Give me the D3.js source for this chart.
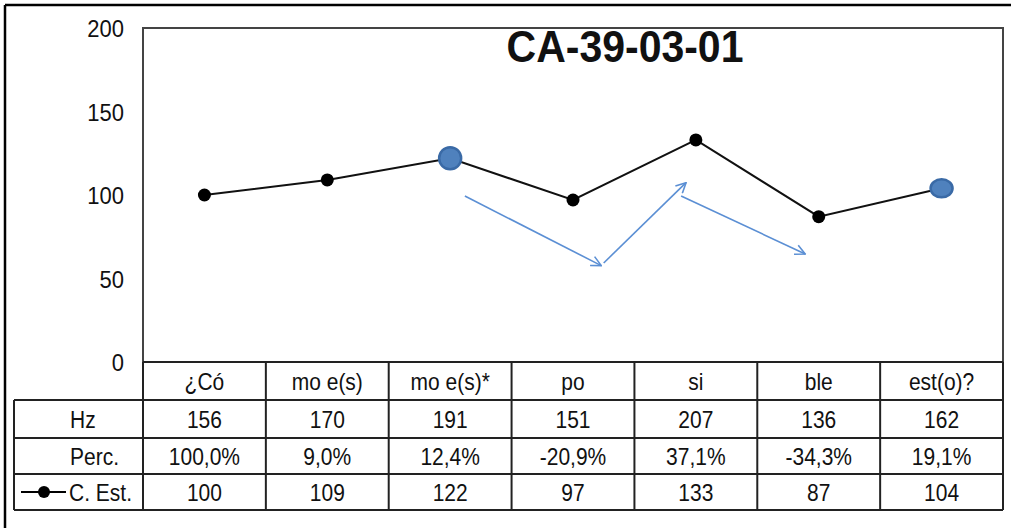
<!DOCTYPE html>
<html>
<head>
<meta charset="utf-8">
<script src="https://cdn.jsdelivr.net/npm/d3@7"></script>
<style>
  html, body { margin: 0; padding: 0; background: #fff; }
  svg { display: block; }
  text { font-family: "Liberation Sans", Arial, sans-serif; fill: #111; }
</style>
</head>
<body>
<svg id="chart" width="1011" height="528"></svg>
<script>
// ---- data ----
const title = "CA-39-03-01";
const categories = ["¿Có", "mo e(s)", "mo e(s)*", "po", "si", "ble", "est(o)?"];
const hz = [156, 170, 191, 151, 207, 136, 162];
const perc = ["100,0%", "9,0%", "12,4%", "-20,9%", "37,1%", "-34,3%", "19,1%"];
const cEst = [100, 109, 122, 97, 133, 87, 104];
const yTicks = [0, 50, 100, 150, 200];
const rowLabels = ["Hz", "Perc.", "C. Est."];
// highlighted points (index, shape)
const highlights = [{i: 2, rx: 11, ry: 11}, {i: 6, rx: 11, ry: 9}];
// annotation arrows in data coordinates [categoryIndex, value]
const arrows = [
  [[2.12, 99.4], [3.23, 57.7]],
  [[3.25, 59.3], [3.92, 107.4]],
  [[3.88, 99.4], [4.89, 64.7]]
];

// ---- layout ----
const svg = d3.select("#chart");
const plot = {left: 143, right: 1003, top: 28, bottom: 362};
const tableLeft = 14;
const rowEdges = [362, 400, 438, 474, 510];

const x = d3.scaleBand().domain(d3.range(categories.length)).range([plot.left, plot.right]);
const xi = d3.scaleLinear().domain([-0.5, categories.length - 0.5]).range([plot.left, plot.right]);
const y = d3.scaleLinear().domain([0, 200]).range([plot.bottom, plot.top]);
const cx = i => x(i) + x.bandwidth() / 2;

// scaled text helper (source text is vertically stretched)
function stext(g, str, px, cy, fs, sy, anchor, weight) {
  const base = cy + 0.716 * fs * sy / 2;
  g.append("text")
    .attr("transform", `translate(${px},${base}) scale(1,${sy})`)
    .attr("text-anchor", anchor || "middle")
    .attr("font-size", fs)
    .attr("font-weight", weight || "normal")
    .text(str);
}

// outer frame (top & left visible)
svg.append("line").attr("x1", 5).attr("x2", 1011).attr("y1", 5).attr("y2", 5)
  .attr("stroke", "#000").attr("stroke-width", 2.5);
svg.append("line").attr("x1", 5).attr("x2", 5).attr("y1", 5).attr("y2", 528)
  .attr("stroke", "#000").attr("stroke-width", 2.5);

// plot area border
svg.append("rect")
  .attr("x", plot.left).attr("y", plot.top)
  .attr("width", plot.right - plot.left).attr("height", plot.bottom - plot.top)
  .attr("fill", "none").attr("stroke", "#444").attr("stroke-width", 2);

// y axis labels
const yAxis = d3.axisLeft(y).tickValues(yTicks).tickSize(0).tickPadding(0);
const ya = svg.append("g").attr("transform", `translate(${plot.left},0)`).call(yAxis);
ya.select(".domain").remove();
ya.selectAll(".tick text").remove();
ya.selectAll(".tick").each(function(d) {
  const t = d3.select(this);
  stext(t, String(d), -19, 0, 22, 1.12, "end");
});

// title
stext(svg, title, 625, 46, 41, 1.08, "middle", "bold");

// data table grid
const grid = svg.append("g").attr("stroke", "#222").attr("stroke-width", 2).attr("fill", "none");
// horizontal lines
rowEdges.forEach((ry, k) => {
  grid.append("line")
    .attr("x1", k === 0 ? plot.left : tableLeft).attr("x2", plot.right)
    .attr("y1", ry).attr("y2", ry);
});
// vertical lines
d3.range(categories.length + 1).forEach(i => {
  const vx = i < categories.length ? x(i) : plot.right;
  grid.append("line").attr("x1", vx).attr("x2", vx)
    .attr("y1", rowEdges[0]).attr("y2", rowEdges[4]);
});
grid.append("line").attr("x1", tableLeft).attr("x2", tableLeft)
  .attr("y1", rowEdges[1]).attr("y2", rowEdges[4]);

const rowCenter = k => (rowEdges[k] + rowEdges[k + 1]) / 2;
const tfs = 21, tsy = 1.18;

// header row: categories
categories.forEach((c, i) => stext(svg, c, cx(i), rowCenter(0), tfs, tsy));
// value rows
const rows = [hz.map(String), perc, cEst.map(String)];
rows.forEach((vals, r) => {
  vals.forEach((v, i) => stext(svg, v, cx(i), rowCenter(r + 1), tfs, tsy));
});
// row labels
stext(svg, rowLabels[0], 70, rowCenter(1), tfs, tsy, "start");
stext(svg, rowLabels[1], 70, rowCenter(2), tfs, tsy, "start");
stext(svg, rowLabels[2], 69, rowCenter(3), tfs, tsy, "start");
// legend key
const ly = rowCenter(3);
svg.append("line").attr("x1", 21).attr("x2", 66).attr("y1", ly).attr("y2", ly)
  .attr("stroke", "#000").attr("stroke-width", 2);
svg.append("circle").attr("cx", 44).attr("cy", ly).attr("r", 6).attr("fill", "#000");

// annotation arrows
const defs = svg.append("defs");
defs.append("marker").attr("id", "arr").attr("viewBox", "0 0 12 12")
  .attr("refX", 11).attr("refY", 6).attr("markerWidth", 12).attr("markerHeight", 12)
  .attr("markerUnits", "userSpaceOnUse").attr("orient", "auto")
  .append("path").attr("d", "M1,1 L11,6 L1,11").attr("fill", "none")
  .attr("stroke", "#5b8fd4").attr("stroke-width", 1.6);
svg.append("g").selectAll("line").data(arrows).join("line")
  .attr("x1", d => xi(d[0][0])).attr("y1", d => y(d[0][1]))
  .attr("x2", d => xi(d[1][0])).attr("y2", d => y(d[1][1]))
  .attr("stroke", "#5b8fd4").attr("stroke-width", 1.6)
  .attr("marker-end", "url(#arr)");

// series line
const line = d3.line().x((d, i) => cx(i)).y(d => y(d));
svg.append("path").datum(cEst).attr("d", line)
  .attr("fill", "none").attr("stroke", "#111").attr("stroke-width", 2);

// markers
const hiIdx = highlights.map(h => h.i);
svg.append("g").selectAll("circle")
  .data(cEst.map((v, i) => ({v, i})).filter(d => !hiIdx.includes(d.i)))
  .join("circle")
  .attr("cx", d => cx(d.i)).attr("cy", d => y(d.v)).attr("r", 6.5).attr("fill", "#000");

svg.append("g").selectAll("ellipse").data(highlights).join("ellipse")
  .attr("cx", d => cx(d.i)).attr("cy", d => y(cEst[d.i]))
  .attr("rx", d => d.rx).attr("ry", d => d.ry)
  .attr("fill", "#4f81bd").attr("stroke", "#3a6aa6").attr("stroke-width", 2.5);
</script>
</body>
</html>
